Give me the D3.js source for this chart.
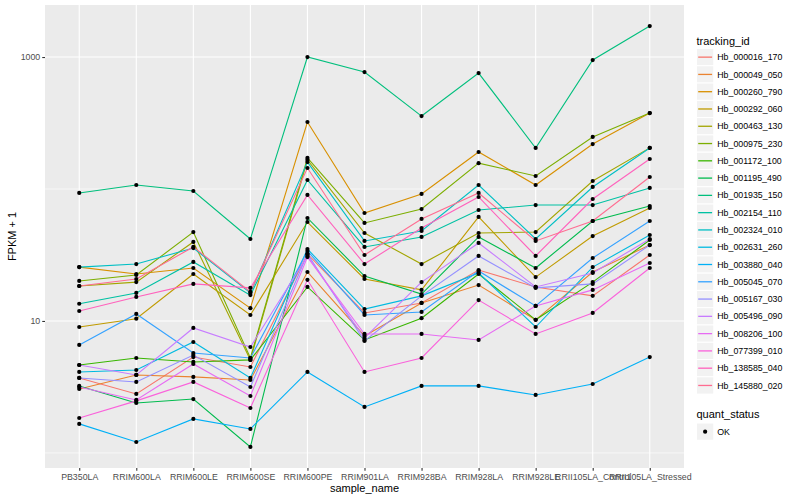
<!DOCTYPE html>
<html>
<head>
<meta charset="utf-8">
<script src="https://cdn.jsdelivr.net/npm/d3@7"></script>
<style>
body { margin: 0; background: #fff; }
text { font-family: "Liberation Sans", Arial, sans-serif; }
</style>
</head>
<body>
<script>
// samples on the x axis
var samples = ["PB350LA", "RRIM600LA", "RRIM600LE", "RRIM600SE", "RRIM600PE", "RRIM901LA",
    "RRIM928BA", "RRIM928LA", "RRIM928LE", "RRII105LA_Control", "RRII105LA_Stressed"];

// FPKM + 1 per gene, one value per sample
var hb_000016_170 = [3.70, 2.80, 5.33, 4.48, 32.2, 11.5, 13.7, 24.3, 18.1, 15.5, 31.6];
var hb_000049_050 = [3.05, 3.90, 3.77, 3.57, 23.5, 7.70, 13.7, 18.7, 10.2, 23.5, 37.6];
var hb_000260_790 = [25.6, 22.7, 25.2, 12.5, 322, 65.8, 91.7, 190.7, 107.2, 219, 376];
var hb_000292_060 = [9.0, 10.4, 22.7, 11.1, 56.2, 20.8, 17.2, 61.4, 21.5, 44.0, 71.8];
var hb_000463_130 = [18.4, 19.7, 39.7, 5.07, 166, 46.4, 27.0, 46.4, 47.2, 115, 205];
var hb_000975_230 = [20.1, 22.3, 47.2, 5.24, 172, 55.3, 70.5, 157, 125.5, 248, 376];
var hb_001172_100 = [4.64, 5.24, 4.89, 5.07, 18.1, 7.18, 10.5, 22.7, 10.2, 19.7, 41.1];
var hb_001195_490 = [3.22, 2.39, 2.56, 1.11, 60.3, 21.9, 16.0, 43.3, 25.2, 57.2, 74.3];
var hb_001935_150 = [93.3, 107.2, 96.6, 41.8, 1000, 769, 357, 756, 204.6, 949, 1717];
var hb_002154_110 = [13.5, 16.3, 28.0, 15.7, 117, 36.4, 43.3, 69.3, 75.6, 75.6, 101.8];
var hb_002324_010 = [25.6, 27.0, 35.7, 16.3, 160, 40.4, 48.1, 107.2, 41.8, 103.6, 204.6];
var hb_002631_260 = [4.11, 4.25, 6.93, 3.70, 35.1, 12.3, 15.5, 23.1, 9.0, 25.6, 44.8];
var hb_003880_040 = [1.66, 1.21, 1.81, 1.52, 4.11, 2.23, 3.22, 3.22, 2.75, 3.33, 5.33];
var hb_005045_070 = [6.58, 11.3, 5.72, 5.24, 33.9, 11.1, 11.7, 23.9, 13.0, 30.0, 57.2];
var hb_005167_030 = [3.70, 3.45, 5.52, 3.16, 32.2, 7.05, 15.5, 31.1, 17.8, 19.1, 37.6];
var hb_005496_090 = [4.64, 3.90, 8.85, 6.35, 31.1, 7.43, 19.7, 39.0, 18.1, 23.1, 41.8];
var hb_008206_100 = [3.16, 2.52, 4.72, 2.70, 30.5, 7.97, 7.97, 7.18, 13.0, 17.2, 27.5];
var hb_077399_010 = [1.84, 2.48, 3.45, 2.19, 20.5, 4.11, 5.24, 14.4, 7.97, 11.5, 25.2];
var hb_138585_040 = [11.9, 15.2, 19.1, 17.8, 90.1, 27.0, 50.6, 87.0, 31.1, 84.0, 168.8];
var hb_145880_020 = [18.4, 20.8, 36.4, 16.6, 144.2, 31.6, 59.3, 93.3, 40.4, 57.2, 123.3];

var trackingIds = ["Hb_000016_170", "Hb_000049_050", "Hb_000260_790", "Hb_000292_060", "Hb_000463_130",
    "Hb_000975_230", "Hb_001172_100", "Hb_001195_490", "Hb_001935_150", "Hb_002154_110",
    "Hb_002324_010", "Hb_002631_260", "Hb_003880_040", "Hb_005045_070", "Hb_005167_030",
    "Hb_005496_090", "Hb_008206_100", "Hb_077399_010", "Hb_138585_040", "Hb_145880_020"];

var yTicks = [10, 1000];
var yMinor = [1, 100];
var statusLabels = ["OK"];

var values = [hb_000016_170, hb_000049_050, hb_000260_790, hb_000292_060, hb_000463_130,
    hb_000975_230, hb_001172_100, hb_001195_490, hb_001935_150, hb_002154_110,
    hb_002324_010, hb_002631_260, hb_003880_040, hb_005045_070, hb_005167_030,
    hb_005496_090, hb_008206_100, hb_077399_010, hb_138585_040, hb_145880_020];

// ggplot default hue palette, 20 levels
var colors = ["#F8766D", "#EA8331", "#D89000", "#C09B00", "#A3A500", "#7CAE00", "#39B600", "#00BB4E",
    "#00BF7D", "#00C1A3", "#00BFC4", "#00BAE0", "#00B0F6", "#35A2FF", "#9590FF", "#C77CFF",
    "#E76BF3", "#FA62DB", "#FF62BC", "#FF6C91"];

var series = trackingIds.map(function (id, i) {
    return { id: id, color: colors[i], values: values[i] };
});

var width = 800, height = 500;
var pLeft = 45, pRight = 684, pTop = 5, pBottom = 468;

var svg = d3.select("body").append("svg")
    .attr("width", width)
    .attr("height", height);

var x = d3.scalePoint()
    .domain(samples)
    .range([pLeft, pRight])
    .padding(0.6);

// log range padded by 5% like ggplot
var allVals = d3.merge(values);
var lo = Math.log10(d3.min(allVals)), hi = Math.log10(d3.max(allVals));
var pad = (hi - lo) * 0.05;
var y = d3.scaleLog()
    .domain([Math.pow(10, lo - pad), Math.pow(10, hi + pad)])
    .range([pBottom, pTop]);

svg.append("rect")
    .attr("x", pLeft).attr("y", pTop)
    .attr("width", pRight - pLeft).attr("height", pBottom - pTop)
    .attr("fill", "#EBEBEB");

svg.append("g").selectAll("line")
    .data(yMinor)
    .enter().append("line")
    .attr("x1", pLeft).attr("x2", pRight)
    .attr("y1", function (d) { return y(d); })
    .attr("y2", function (d) { return y(d); })
    .attr("stroke", "#fff").attr("stroke-width", 0.6);

svg.append("g").selectAll("line")
    .data(yTicks)
    .enter().append("line")
    .attr("x1", pLeft).attr("x2", pRight)
    .attr("y1", function (d) { return y(d); })
    .attr("y2", function (d) { return y(d); })
    .attr("stroke", "#fff").attr("stroke-width", 1.1);

svg.append("g").selectAll("line")
    .data(samples)
    .enter().append("line")
    .attr("x1", function (d) { return x(d); })
    .attr("x2", function (d) { return x(d); })
    .attr("y1", pTop).attr("y2", pBottom)
    .attr("stroke", "#fff").attr("stroke-width", 1.1);

var line = d3.line()
    .x(function (d, i) { return x(samples[i]); })
    .y(function (d) { return y(d); });

svg.append("g").selectAll("path")
    .data(series)
    .enter().append("path")
    .attr("d", function (d) { return line(d.values); })
    .attr("fill", "none")
    .attr("stroke", function (d) { return d.color; })
    .attr("stroke-width", 1.1);

svg.append("g").selectAll("g")
    .data(series)
    .enter().append("g")
    .selectAll("circle")
    .data(function (d) { return d.values; })
    .enter().append("circle")
    .attr("cx", function (d, i) { return x(samples[i]); })
    .attr("cy", function (d) { return y(d); })
    .attr("r", 2.1)
    .attr("fill", "#000");

// axes
var yAxis = svg.append("g")
    .attr("transform", "translate(" + pLeft + ",0)")
    .call(d3.axisLeft(y).tickValues(yTicks).tickFormat(d3.format("d")).tickSize(2.75).tickPadding(2));

var xAxis = svg.append("g")
    .attr("transform", "translate(0," + pBottom + ")")
    .call(d3.axisBottom(x).tickSize(2.75).tickPadding(3));

[yAxis, xAxis].forEach(function (g) {
    g.select(".domain").remove();
    g.selectAll(".tick line").attr("stroke", "#333333").attr("stroke-width", 1.1);
    g.selectAll(".tick text")
        .attr("fill", "#4D4D4D")
        .attr("font-size", "8.8px")
        .attr("font-family", "Liberation Sans, Arial, sans-serif");
});

svg.append("text")
    .attr("transform", "translate(16," + ((pTop + pBottom) / 2) + ") rotate(-90)")
    .attr("text-anchor", "middle")
    .attr("font-size", "11px")
    .text("FPKM + 1");

svg.append("text")
    .attr("x", (pLeft + pRight) / 2)
    .attr("y", 492)
    .attr("text-anchor", "middle")
    .attr("font-size", "11px")
    .text("sample_name");

// legend: tracking_id
var keySize = 17.28, legX = 696.5, legY = 48.5;

svg.append("text")
    .attr("x", legX).attr("y", 44.5)
    .attr("font-size", "11px")
    .text("tracking_id");

var keys = svg.append("g").selectAll("g")
    .data(series)
    .enter().append("g")
    .attr("transform", function (d, i) { return "translate(" + legX + "," + (legY + i * keySize) + ")"; });

keys.append("rect")
    .attr("width", keySize).attr("height", keySize)
    .attr("fill", "#F2F2F2").attr("stroke", "#fff").attr("stroke-width", 1);

keys.append("line")
    .attr("x1", 1.7).attr("x2", keySize - 1.7)
    .attr("y1", keySize / 2).attr("y2", keySize / 2)
    .attr("stroke", function (d) { return d.color; })
    .attr("stroke-width", 1.3);

keys.append("text")
    .attr("x", keySize + 3.5).attr("y", keySize / 2 + 3.1)
    .attr("font-size", "8.8px")
    .text(function (d) { return d.id; });

// legend: quant_status
var qY = 423;
svg.append("text")
    .attr("x", legX).attr("y", qY - 5.5)
    .attr("font-size", "11px")
    .text("quant_status");

var qKeys = svg.append("g").selectAll("g")
    .data(statusLabels)
    .enter().append("g")
    .attr("transform", function (d, i) { return "translate(" + legX + "," + (qY + i * keySize) + ")"; });

qKeys.append("rect")
    .attr("width", keySize).attr("height", keySize)
    .attr("fill", "#F2F2F2").attr("stroke", "#fff").attr("stroke-width", 1);

qKeys.append("circle")
    .attr("cx", keySize / 2).attr("cy", keySize / 2)
    .attr("r", 2.1).attr("fill", "#000");

qKeys.append("text")
    .attr("x", keySize + 3.5).attr("y", keySize / 2 + 3.1)
    .attr("font-size", "8.8px")
    .text(function (d) { return d; });
</script>
</body>
</html>
